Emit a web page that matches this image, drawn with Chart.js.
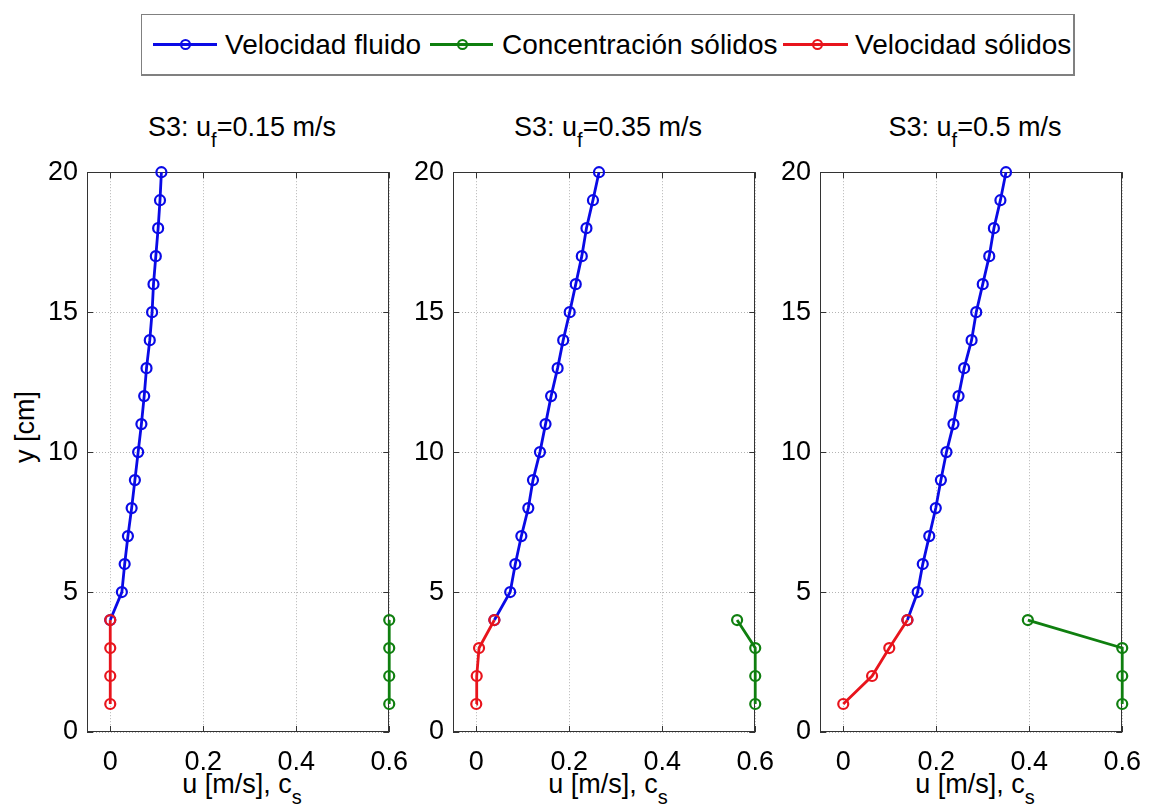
<!DOCTYPE html>
<html>
<head>
<meta charset="utf-8">
<script src="https://cdn.jsdelivr.net/npm/chart.js@4/dist/chart.umd.min.js"></script>
<style>
  html, body { margin: 0; padding: 0; background: #fff; }
  body { width: 1150px; height: 810px; overflow: hidden; position: relative;
         font-family: "Liberation Sans", Arial, sans-serif; color: #000; }
  canvas { position: absolute; top: 147px; }
  .txt { position: absolute; font-size: 27px; line-height: 27px; white-space: nowrap; }
  .title { width: 320px; text-align: center; top: 114px; }
  .xlab { width: 320px; text-align: center; top: 771px; }
  .sub { font-size: 20px; position: relative; top: 11px; line-height: 0; }
  #legend { position: absolute; left: 141px; top: 14px; width: 931px; height: 59px;
            border: 2px solid #808080; border-top-width: 1px; border-left-width: 1px; }
  .lline { position: absolute; height: 3px; top: 43px; }
  .lmark { position: absolute; width: 7px; height: 7px; border-radius: 50%;
           border: 2px solid; top: 39px; background: transparent; }
  .ltxt { position: absolute; font-size: 28px; line-height: 28px; top: 31px; white-space: nowrap; }
  #ylab { position: absolute; left: -75px; top: 412px; width: 200px; height: 30px;
          line-height: 30px; font-size: 27px; text-align: center; transform: rotate(-90deg); }
</style>
</head>
<body>

<div id="legend"></div>
<div class="lline" style="left:153px;width:64px;background:#0a0ae6"></div>
<div class="lmark" style="left:180px;border-color:#0a0ae6"></div>
<div class="ltxt" style="left:225px">Velocidad fluido</div>
<div class="lline" style="left:430px;width:63px;background:#0f7f0f"></div>
<div class="lmark" style="left:457px;border-color:#0f7f0f"></div>
<div class="ltxt" style="left:502px">Concentración sólidos</div>
<div class="lline" style="left:783px;width:65px;background:#e8141c"></div>
<div class="lmark" style="left:812px;border-color:#e8141c"></div>
<div class="ltxt" style="left:855px">Velocidad sólidos</div>

<div class="txt title" style="left:82px">S3: u<span class="sub">f</span>=0.15 m/s</div>
<div class="txt title" style="left:448px">S3: u<span class="sub">f</span>=0.35 m/s</div>
<div class="txt title" style="left:815px">S3: u<span class="sub">f</span>=0.5 m/s</div>

<div id="ylab">y [cm]</div>

<div class="txt xlab" style="left:82px">u [m/s], c<span class="sub">s</span></div>
<div class="txt xlab" style="left:448px">u [m/s], c<span class="sub">s</span></div>
<div class="txt xlab" style="left:815px">u [m/s], c<span class="sub">s</span></div>

<canvas id="p1" width="405" height="630" style="left:17px"></canvas>
<canvas id="p2" width="405" height="630" style="left:383px"></canvas>
<canvas id="p3" width="405" height="630" style="left:750px"></canvas>

<script>
// alturas (cm)
const yFluid = [4, 5, 6, 7, 8, 9, 10, 11, 12, 13, 14, 15, 16, 17, 18, 19, 20];
const ySolid = [1, 2, 3, 4];

// tick labels
const xTicks = [0, 0.2, 0.4, 0.6];
const yTicks = [0, 5, 10, 15, 20];

// uf = 0.15 m/s
const fluid015 = [0, 0.025, 0.031, 0.038, 0.046, 0.053, 0.060, 0.067, 0.073, 0.078, 0.085, 0.090, 0.093, 0.098, 0.103, 0.107, 0.110];
const conc015  = [0.6, 0.6, 0.6, 0.6];
const solid015 = [0, 0, 0, 0];

// uf = 0.35 m/s
const fluid035 = [0.039, 0.073, 0.084, 0.097, 0.112, 0.122, 0.137, 0.149, 0.161, 0.175, 0.187, 0.201, 0.214, 0.227, 0.237, 0.251, 0.264];
const conc035  = [0.6, 0.6, 0.6, 0.561];
const solid035 = [0, 0.001, 0.006, 0.039];

// uf = 0.5 m/s
const fluid05 = [0.138, 0.160, 0.171, 0.185, 0.199, 0.210, 0.222, 0.237, 0.248, 0.260, 0.276, 0.286, 0.300, 0.314, 0.324, 0.338, 0.350];
const conc05  = [0.6, 0.6, 0.6, 0.397];
const solid05 = [0, 0.062, 0.099, 0.138];

const BLUE = '#0a0ae6', GREEN = '#0f7f0f', RED = '#e8141c';
const FONT = { family: '"Liberation Sans", Arial, sans-serif', size: 27 };

// caja de ejes + marcas de tick hacia dentro (estilo matlab)
const axesBox = {
  id: 'axesBox',
  beforeDatasetsDraw(chart) {
    const { ctx, chartArea: a, scales: { x, y } } = chart;
    ctx.save();
    ctx.strokeStyle = '#333';
    ctx.lineWidth = 1;
    ctx.beginPath();
    xTicks.forEach(v => {
      const px = Math.round(x.getPixelForValue(v)) + 0.5;
      ctx.moveTo(px, a.bottom); ctx.lineTo(px, a.bottom - 6);
      ctx.moveTo(px, a.top); ctx.lineTo(px, a.top + 6);
    });
    yTicks.forEach(v => {
      const py = Math.round(y.getPixelForValue(v)) + 0.5;
      ctx.moveTo(a.left, py); ctx.lineTo(a.left + 6, py);
      ctx.moveTo(a.right, py); ctx.lineTo(a.right - 6, py);
    });
    ctx.stroke();
    ctx.strokeRect(Math.round(a.left) + 0.5, Math.round(a.top) + 0.5,
                   Math.round(a.width) - 1, Math.round(a.height) - 1);
    ctx.restore();
  }
};

function serie(xs, ys, color, order) {
  return {
    data: ys.map((y, i) => ({ x: xs[i], y: y })),
    showLine: true,
    borderColor: color,
    borderWidth: 2.8,
    pointRadius: 5,
    pointBorderWidth: 2.2,
    pointBorderColor: color,
    pointBackgroundColor: 'rgba(0,0,0,0)',
    tension: 0,
    clip: false,
    order: order
  };
}

function makePanel(id, fluid, conc, solid) {
  new Chart(document.getElementById(id), {
    type: 'scatter',
    data: {
      datasets: [
        serie(solid, ySolid, RED, 1),
        serie(conc, ySolid, GREEN, 2),
        serie(fluid, yFluid, BLUE, 3)
      ]
    },
    options: {
      responsive: false,
      devicePixelRatio: 1,
      animation: false,
      events: [],
      layout: { autoPadding: false, padding: { top: 12, right: 25, left: 0, bottom: 0 } },
      plugins: { legend: { display: false }, tooltip: { enabled: false } },
      scales: {
        x: {
          type: 'linear', min: -0.05, max: 0.6,
          afterBuildTicks: s => { s.ticks = xTicks.map(v => ({ value: v })); },
          afterFit: s => { s.height = 45; },
          ticks: { font: FONT, color: '#000', padding: 14, maxRotation: 0, autoSkip: false,
                   callback: v => v === 0 ? '0' : v.toFixed(1) },
          grid: { color: '#b4b4b4', lineWidth: 1, drawTicks: false },
          border: { display: false, dash: [1, 2] }
        },
        y: {
          type: 'linear', min: 0, max: 20,
          afterBuildTicks: s => { s.ticks = yTicks.map(v => ({ value: v })); },
          afterFit: s => { s.width = 70; },
          ticks: { font: FONT, color: '#000', padding: 9, autoSkip: false,
                   callback: v => String(v) },
          grid: { color: '#b4b4b4', lineWidth: 1, drawTicks: false },
          border: { display: false, dash: [1, 2] }
        }
      }
    },
    plugins: [axesBox]
  });
}

makePanel('p1', fluid015, conc015, solid015);
makePanel('p2', fluid035, conc035, solid035);
makePanel('p3', fluid05, conc05, solid05);
</script>
</body>
</html>
